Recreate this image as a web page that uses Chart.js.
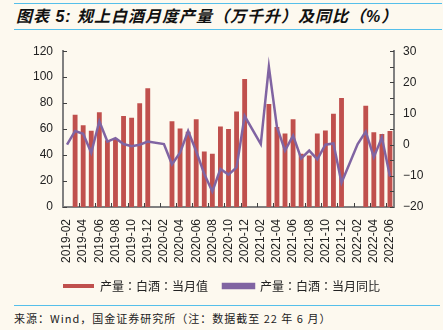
<!DOCTYPE html>
<html>
<head>
<meta charset="utf-8">
<script src="https://cdn.jsdelivr.net/npm/chart.js@4.4.1/dist/chart.umd.min.js"></script>
<style>
  body { margin: 0; width: 443px; height: 330px; overflow: hidden; position: relative;
         background: #fdf9ef; font-family: "Liberation Sans", "Noto Sans CJK SC", sans-serif; }
  #title { position: absolute; left: 14px; width: 426px; top: 3px; height: 25px;
           border-top: 1.5px solid #55bfea; border-bottom: 1.5px solid #55bfea;
           font: italic bold 16px "Liberation Sans", "Noto Sans CJK SC", sans-serif;
           line-height: 25px; padding-left: 2px; color: #111; letter-spacing: 1px; }
  #wrap { position: absolute; left: 0; top: 34px; width: 443px; height: 268px; }
  #foot { position: absolute; left: 14px; width: 426px; top: 305px; border-top: 1.5px solid #55bfea;
          font: 11px "Noto Sans CJK SC", "Liberation Sans", sans-serif; color: #222;
          padding-top: 4px; letter-spacing: 1px; }
</style>
</head>
<body>
<div id="title">图表 5: 规上白酒月度产量（万千升）及同比（%）</div>
<div id="wrap"><canvas id="chart"></canvas></div>
<div id="foot">来源：Wind，国金证券研究所（注：数据截至 22 年 6 月）</div>
<script>
const months = [
  '2019-02','2019-03','2019-04','2019-05','2019-06','2019-07','2019-08','2019-09','2019-10','2019-11','2019-12',
  '2020-01','2020-02','2020-03','2020-04','2020-05','2020-06','2020-07','2020-08','2020-09','2020-10','2020-11','2020-12',
  '2021-01','2021-02','2021-03','2021-04','2021-05','2021-06','2021-07','2021-08','2021-09','2021-10','2021-11','2021-12',
  '2022-01','2022-02','2022-03','2022-04','2022-05','2022-06'
];
// 产量:白酒:当月值 (万千升)
const output = [
  null, 71, 63, 58.7, 73, 51.5, 52.5, 70, 68.7, 80, 91.5,
  null, null, 66, 60.5, 58, 67.5, 42.7, 41, 62, 60, 73.5, 98.5,
  null, null, 79.3, 61.7, 56.7, 67.5, 41, 39.7, 56.7, 59, 71.8, 84,
  null, null, 78, 57.5, 56.3, 58.5
];
// 产量:白酒:当月同比 (%)
const yoy = [
  0, 4.4, 3.5, -2.6, 7.5, 1.0, 2.1, 0.2, -0.5, 0, 1.0,
  null, 0.2, -6.3, -2.6, 4.4, -2.1, -9.4, -15, -7.8, -9.6, -7.3, 9.2,
  null, 0.2, 25, 5.7, -1.9, 2.9, -4.4, -1.9, -4.7, 0, 0.4, -12.2,
  null, 0.2, 4.2, -4, 2.3, -10.2
];
const leftTicks = [0, 20, 40, 60, 80, 100, 120];
const rightTicks = [-20, -15, -10, -5, 0, 5, 10, 15, 20, 25, 30];

const barColor = '#c0504d';
const lineColor = '#8064a2';
const axisColor = '#808080';
const tickFont = { family: '"Liberation Sans", Arial, sans-serif', size: 12 };

// inward tick marks like the original
const innerTicks = {
  id: 'innerTicks',
  afterDraw(chart) {
    const ctx = chart.ctx;
    const { left, right, bottom } = chart.chartArea;
    const x = chart.scales.x, yL = chart.scales.y, yR = chart.scales.y1;
    ctx.save();
    ctx.strokeStyle = '#404040';
    ctx.lineWidth = 1;
    ctx.beginPath();
    leftTicks.forEach(v => {
      const py = Math.round(yL.getPixelForValue(v)) + 0.5;
      ctx.moveTo(left, py); ctx.lineTo(left + 4, py);
    });
    rightTicks.forEach(v => {
      const py = Math.round(yR.getPixelForValue(v)) + 0.5;
      ctx.moveTo(right, py); ctx.lineTo(right - 4, py);
    });
    const step = (x.getPixelForValue(1) - x.getPixelForValue(0));
    for (let i = 2; i < months.length; i += 2) {
      const px = Math.round(x.getPixelForValue(i) - step / 2) + 0.5;
      ctx.moveTo(px, bottom); ctx.lineTo(px, bottom - 4);
    }
    ctx.stroke();
    ctx.restore();
  }
};

new Chart(document.getElementById('chart'), {
  data: {
    labels: months,
    datasets: [
      {
        type: 'line', label: '产量：白酒：当月同比', data: yoy, yAxisID: 'y1',
        borderColor: lineColor, backgroundColor: lineColor, borderWidth: 2.5,
        pointRadius: 0, tension: 0, spanGaps: true, order: 0
      },
      {
        type: 'bar', label: '产量：白酒：当月值', data: output, yAxisID: 'y',
        backgroundColor: barColor, borderWidth: 0,
        categoryPercentage: 1, barPercentage: 0.6, order: 1
      }
    ]
  },
  options: {
    responsive: true,
    maintainAspectRatio: false,
    animation: false,
    layout: { padding: { top: 15, left: 0, right: 0, bottom: 0 } },
    plugins: {
      tooltip: { enabled: false },
      legend: {
        position: 'bottom',
        reverse: true,
        labels: {
          boxWidth: 31, boxHeight: 4, padding: 15, color: '#222',
          font: { family: '"Noto Sans CJK TC", "Noto Sans CJK SC", sans-serif', size: 12 }
        }
      }
    },
    scales: {
      x: {
        offset: true,
        grid: { display: false },
        border: { color: axisColor, width: 2 },
        ticks: {
          autoSkip: false, maxRotation: 90, minRotation: 90, padding: 4,
          color: '#222', font: tickFont,
          callback: (v, i) => (i % 2 === 0 ? months[i] : '')
        },
        afterFit: s => { s.height = 58; }
      },
      y: {
        position: 'left', min: 0, max: 120,
        grid: { display: false, drawTicks: false },
        border: { color: axisColor, width: 2 },
        ticks: { stepSize: 20, padding: 10, color: '#222', font: tickFont },
        afterFit: s => { s.width = 63; }
      },
      y1: {
        position: 'right', min: -20, max: 30,
        grid: { display: false, drawTicks: false },
        border: { color: axisColor, width: 2 },
        ticks: {
          stepSize: 5, padding: 9, color: '#222', font: tickFont,
          callback: v => (v < 0 ? '\u2212' + Math.abs(v) : String(v))
        },
        afterFit: s => { s.width = 49; }
      }
    }
  },
  plugins: [innerTicks]
});
</script>
</body>
</html>
